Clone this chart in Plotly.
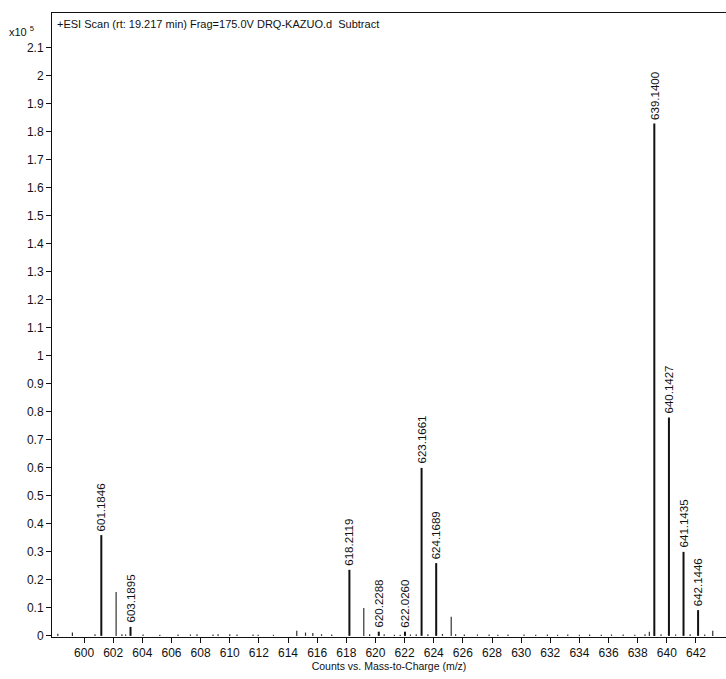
import plotly.graph_objects as go

# Labeled peaks (m/z, counts x10^5)
label_mz = [601.1846, 603.1895, 618.2119, 620.2288, 622.0260, 623.1661, 624.1689,
            639.1400, 640.1427, 641.1435, 642.1446]
label_h = [0.36, 0.032, 0.236, 0.015, 0.015, 0.60, 0.26, 1.83, 0.78, 0.30, 0.092]

# Unlabeled peaks
minor_mz = [602.20, 619.20, 625.20, 598.20, 599.20, 600.75, 602.60, 602.85, 604.05, 605.20,
            606.45, 607.30, 607.75, 608.85, 609.20, 610.00, 610.50, 611.60, 611.95,
            613.00, 614.60, 615.20, 615.70, 616.30, 617.00, 619.60, 620.60, 621.30,
            621.70, 622.40, 622.80, 623.60, 624.60, 625.50, 626.10, 627.00, 627.80,
            628.40, 629.10, 630.20, 631.00, 631.80, 632.50, 633.20, 634.00, 634.70,
            635.50, 636.20, 637.00, 637.80, 638.50, 638.80, 639.60, 640.60, 641.60,
            642.60, 643.15]
minor_h = [0.157, 0.100, 0.068, 0.008, 0.012, 0.006, 0.006, 0.005, 0.005, 0.004,
           0.005, 0.005, 0.006, 0.005, 0.006, 0.006, 0.005, 0.005, 0.004,
           0.004, 0.018, 0.012, 0.010, 0.006, 0.005, 0.006, 0.006, 0.004,
           0.004, 0.005, 0.006, 0.006, 0.007, 0.006, 0.005, 0.005, 0.005,
           0.004, 0.005, 0.005, 0.004, 0.005, 0.004, 0.005, 0.004, 0.005,
           0.004, 0.005, 0.005, 0.004, 0.006, 0.015, 0.006, 0.005, 0.006,
           0.005, 0.018]

x_ticks = list(range(600, 643, 2))
y_ticks = [round(i * 0.1, 1) for i in range(0, 22)]

title_text = "+ESI Scan (rt: 19.217 min) Frag=175.0V DRQ-KAZUO.d  Subtract"
x_title = "Counts vs. Mass-to-Charge (m/z)"


def sticks(mz, h):
    xs, ys = [], []
    for m, v in zip(mz, h):
        xs += [m, m, None]
        ys += [0, v, None]
    return xs, ys


FONT = "Liberation Sans, Arial, sans-serif"
fig = go.Figure()
mx, my = sticks(minor_mz, minor_h)
fig.add_trace(go.Scatter(x=mx, y=my, mode="lines",
                         line=dict(color="#333333", width=1.2), hoverinfo="skip"))
lx, ly = sticks(label_mz, label_h)
fig.add_trace(go.Scatter(x=lx, y=ly, mode="lines",
                         line=dict(color="#111111", width=2), hoverinfo="skip"))

for m, v in zip(label_mz, label_h):
    fig.add_annotation(x=m, y=v, text=f"{m:.4f}", textangle=-90, showarrow=False,
                       xanchor="center", yanchor="bottom", yshift=2,
                       font=dict(family=FONT, size=11.5, color="#111111"))

fig.add_annotation(x=0, y=1, xref="paper", yref="paper", text=title_text,
                   showarrow=False, xanchor="left", yanchor="top", xshift=3, yshift=-3,
                   font=dict(family=FONT, size=11, color="#111111"))
fig.add_annotation(x=0, y=1, xref="paper", yref="paper", text="x10 <sup>5</sup>",
                   showarrow=False, xanchor="right", yanchor="top", xshift=-16, yshift=-9,
                   font=dict(family=FONT, size=11, color="#111111"))

fig.update_layout(
    width=726, height=679,
    margin=dict(l=52, r=0, t=13, b=42),
    paper_bgcolor="white", plot_bgcolor="white",
    showlegend=False,
    font=dict(family=FONT, size=11, color="#111111"),
    xaxis=dict(range=[597.8, 644.06], tickvals=x_ticks, ticktext=[str(t) for t in x_ticks],
               showgrid=False, zeroline=False, showline=True, linecolor="#111111",
               linewidth=1, mirror=True, ticks="outside", ticklen=5, tickcolor="#111111",
               tickfont=dict(size=12),
               title=dict(text=x_title, font=dict(size=10.5), standoff=2)),
    yaxis=dict(range=[-0.004, 2.225], tickvals=y_ticks, ticktext=[f"{t:g}" for t in y_ticks],
               showgrid=False, zeroline=False, showline=True, linecolor="#111111",
               linewidth=1, ticks="outside", ticklen=5, tickcolor="#111111",
               tickfont=dict(size=12)),
)

fig.write_html("out.html")
